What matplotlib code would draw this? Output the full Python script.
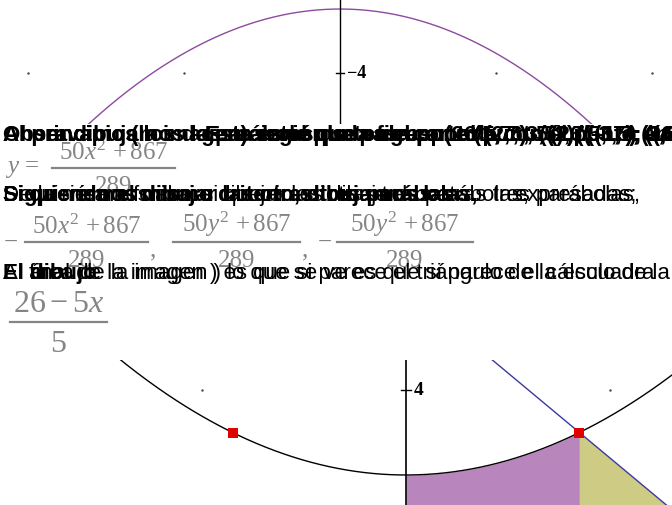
import numpy as np
import matplotlib.pyplot as plt

plt.rcParams['mathtext.fontset'] = 'custom'
plt.rcParams['mathtext.rm'] = 'Liberation Serif'
plt.rcParams['mathtext.it'] = 'Liberation Serif:italic'

# parabolas / line read from the page: y = (50x^2 + 867)/289 , y = (26 - 5x)/5
par_a = 50
par_c = 867
par_d = 289
line_num = 26
line_den = 5

# marked cut points and grid dots
cut_x = [-1.7, 1.7]
cut_y = [3.5, 3.5]
top_dots_x = [-4, -2, 2, 4]
top_dots_y = [-4, -4, -4, -4]
bot_dots_x = [-2, 2]
bot_dots_y = [4, 4]

# overlapping text of the page (x start, text, weight)
line1 = [
    (3, "Ahora dibujamos la parábola que pasa por el punto (26/5, 7), ((4,7; 0,5)", 'bold'),
    (3, "Al principio (la imagen) se ve que es el punto (2,6; 5,2), ((1,7; 3,5)", 'bold'),
    (3, "Observamos los dos recintos de la figura (26/5, 7), ((1,7; 3,5) en", 'bold'),
    (205, "Esta región se corresponde con el punto (26/5, 7), ((4.7; 3)", 'bold'),
    (205, "Este es el punto de corte (1,7; 3,5), ((–1,7; 3,5) que", 'bold'),
]
line2 = [
    (3, "Si queremos dibujar las otras tres parábolas,", 'bold'),
    (3, "Siguiendo el mismo criterio, dibujamos las", 'bold'),
    (3, "Si quisiéramos ahora dibujar las otras tres parábolas,", 'normal'),
    (3, "De la misma forma, si queremos dibujar las otras tres parábolas,", 'normal'),
    (515, "expresadas;", 'normal'),
]
line3 = [
    (3, "El dibujo", 'bold'),
    (3, "Al final de la imagen ) es que si parece el triángulo de la escuadra", 'normal'),
    (3, "El área de la imagen ) lo que se ve es que si parece el cálculo de la esc", 'normal'),
]

W, H = 672, 505
fig = plt.figure(figsize=(6.72, 5.05), dpi=100)

def parab(x):
    return (par_a * x**2 + par_c) / par_d

# top graph: y = -(50x^2+867)/289
ax_top = fig.add_axes([0, 1 - 124 / H, 1, 124 / H])
ax_top.set_xlim(-4.359, 4.256)
ax_top.set_ylim(-4.797, -2.859)
ax_top.axis('off')
xs = np.linspace(-4.4, 4.4, 400)
ax_top.plot(xs, -parab(xs), color='#8e4a9e', lw=1.0)
ax_top.axvline(0, color='black', lw=1.0)
ax_top.plot([-0.05, 0.05], [-4, -4], color='black', lw=1.0)
ax_top.text(0.09, -4, '−4', family='Liberation Serif', weight='bold',
            fontsize=13, va='center', ha='left')
ax_top.scatter(top_dots_x, top_dots_y, s=3, color='#444444', lw=0)

# bottom graph
ax_bot = fig.add_axes([0, 0, 1, 145 / H])
ax_bot.set_xlim(-3.980, 2.608)
ax_bot.set_ylim(2.647, 4.353)
ax_bot.axis('off')
ymin = 2.647
xp = np.linspace(0, cut_x[1], 100)
ax_bot.fill_between(xp, parab(xp), ymin, color='#b886bc', lw=0)
xl = np.linspace(cut_x[1], line_num / line_den - ymin, 50)
ax_bot.fill_between(xl, (line_num - line_den * xl) / line_den, ymin, color='#cdcb84', lw=0)
xs = np.linspace(-4.2, 2.8, 400)
ax_bot.plot(xs, parab(xs), color='black', lw=1.0)
ax_bot.plot(xs, (line_num - line_den * xs) / line_den, color='#3a3aa0', lw=1.0)
ax_bot.axvline(0, color='black', lw=1.2)
ax_bot.plot([-0.05, 0.05], [4, 4], color='black', lw=1.0)
ax_bot.text(0.08, 4, '4', family='Liberation Serif', weight='bold',
            fontsize=14, va='center', ha='left')
ax_bot.scatter(bot_dots_x, bot_dots_y, s=3, color='#444444', lw=0)
ax_bot.scatter(cut_x, cut_y, s=50, marker='s', color='#e00000', lw=0, zorder=5)

# text layer
ax = fig.add_axes([0, 0, 1, 1])
ax.set_xlim(0, W)
ax.set_ylim(H, 0)
ax.axis('off')

gray = '#858585'
serif = 'Liberation Serif'

def frac(x0, x1, ybar, num, den, size, gap):
    xc = (x0 + x1) / 2
    ax.plot([x0, x1], [ybar, ybar], color=gray, lw=1.6)
    ax.text(xc, ybar - 3, num, fontsize=size, color=gray, ha='center', va='bottom')
    ax.text(xc, ybar + gap, den, family=serif, fontsize=size, color=gray,
            ha='center', va='top')

# formula 1
ax.text(5, 168, '$y\\,=$', fontsize=18, color=gray, va='center')
frac(52, 175, 168, '$50x^2\\,+867$', '289', 18, 8)
# formula 2
ax.text(4, 243, '−', family=serif, fontsize=18, color=gray, va='center')
frac(25, 148, 242, '$50x^2\\,+867$', '289', 18, 8)
ax.text(150, 250, ',', family=serif, fontsize=18, color=gray, va='center')
frac(173, 300, 242, '$50y^2\\,+867$', '289', 18, 8)
ax.text(302, 250, ',', family=serif, fontsize=18, color=gray, va='center')
ax.text(318, 243, '−', family=serif, fontsize=18, color=gray, va='center')
frac(337, 473, 242, '$50y^2\\,+867$', '289', 18, 8)
# formula 3
frac(10, 107, 322, '$26-5x$', '5', 23, 8)

for y, rows in [(141, line1), (201, line2), (279, line3)]:
    for x, s, w in rows:
        ax.text(x, y, s, family='Liberation Sans', weight=w, fontsize=16,
                va='baseline', ha='left', color='black', clip_on=True)

fig.savefig('out.png', dpi=100)
